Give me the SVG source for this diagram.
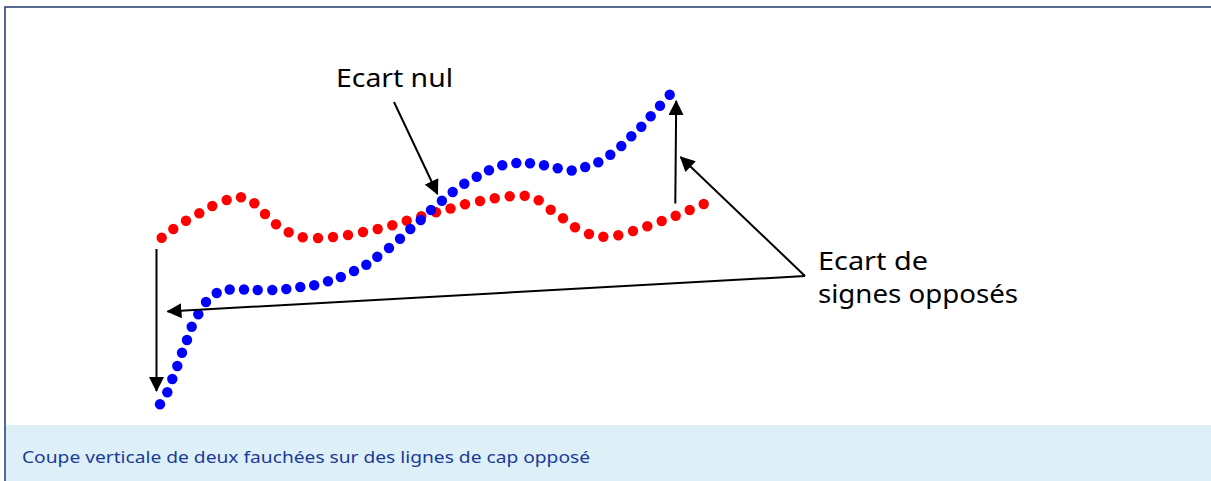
<svg xmlns="http://www.w3.org/2000/svg" xmlns:xlink="http://www.w3.org/1999/xlink" width="1211" height="481" viewBox="0 0 1211 481">
<style>
.r{fill:#ff0000}
.b{fill:#0000ff}
.lbl{font-family:"Noto Sans","Liberation Sans",sans-serif;font-size:25px;fill:#000}
.cap{font-family:"Noto Sans","Liberation Sans",sans-serif;font-size:16px;fill:#1c3a98}
.arr{stroke:#000;stroke-width:2;fill:none;marker-end:url(#ah)}
</style>
<defs>
<marker id="ah" viewBox="0 0 15 15" refX="14" refY="7.5" markerWidth="15" markerHeight="15" markerUnits="userSpaceOnUse" orient="auto">
<path d="M0,0 L15,7.5 L0,15 Z" fill="#000"/>
</marker>
</defs>
<rect x="0" y="0" width="1211" height="481" fill="#fff"/>
<rect x="5.5" y="425" width="1210" height="60" fill="#ddf0f8"/>
<path d="M5,485 V7 H1215" fill="none" stroke="#1e3a6a" stroke-width="1.5"/>
<g id="caption"><text class="cap" x="22" y="463" textLength="568" lengthAdjust="spacingAndGlyphs">Coupe verticale de deux fauchées sur des lignes de cap opposé</text></g>
<g id="red-profile">
<circle class="r" cx="161.7" cy="237.7" r="5.2"/><circle class="r" cx="173.3" cy="229" r="5.2"/><circle class="r" cx="186" cy="220.7" r="5.2"/><circle class="r" cx="199.3" cy="213.3" r="5.2"/><circle class="r" cx="212.3" cy="206" r="5.2"/><circle class="r" cx="226.7" cy="200" r="5.2"/><circle class="r" cx="241" cy="197.3" r="5.2"/><circle class="r" cx="254.3" cy="203.3" r="5.2"/><circle class="r" cx="265" cy="214" r="5.2"/><circle class="r" cx="276" cy="224.3" r="5.2"/><circle class="r" cx="288.7" cy="232.3" r="5.2"/><circle class="r" cx="302.7" cy="237.3" r="5.2"/><circle class="r" cx="318" cy="238" r="5.2"/><circle class="r" cx="333" cy="237" r="5.2"/><circle class="r" cx="348" cy="235" r="5.2"/><circle class="r" cx="363" cy="232" r="5.2"/><circle class="r" cx="377.7" cy="229" r="5.2"/><circle class="r" cx="392.3" cy="225.3" r="5.2"/><circle class="r" cx="406.7" cy="220.7" r="5.2"/><circle class="r" cx="421.3" cy="216.3" r="5.2"/><circle class="r" cx="436" cy="212.3" r="5.2"/><circle class="r" cx="450.5" cy="208.5" r="5.2"/><circle class="r" cx="465" cy="204.3" r="5.2"/><circle class="r" cx="480" cy="201" r="5.2"/><circle class="r" cx="494.7" cy="198.3" r="5.2"/><circle class="r" cx="509.7" cy="196.3" r="5.2"/><circle class="r" cx="524.7" cy="195.7" r="5.2"/><circle class="r" cx="538.7" cy="200.3" r="5.2"/><circle class="r" cx="550.7" cy="209.7" r="5.2"/><circle class="r" cx="563" cy="218.3" r="5.2"/><circle class="r" cx="575" cy="227.3" r="5.2"/><circle class="r" cx="589" cy="234" r="5.2"/><circle class="r" cx="603.3" cy="236.7" r="5.2"/><circle class="r" cx="618.3" cy="235.3" r="5.2"/><circle class="r" cx="633" cy="231" r="5.2"/><circle class="r" cx="647.3" cy="226.3" r="5.2"/><circle class="r" cx="661.7" cy="221" r="5.2"/><circle class="r" cx="675.7" cy="215.7" r="5.2"/><circle class="r" cx="689.7" cy="210" r="5.2"/><circle class="r" cx="703.7" cy="204" r="5.2"/>
</g>
<g id="blue-profile">
<circle class="b" cx="160" cy="404.3" r="5.2"/><circle class="b" cx="167.3" cy="392.3" r="5.2"/><circle class="b" cx="172.3" cy="379" r="5.2"/><circle class="b" cx="177.3" cy="366" r="5.2"/><circle class="b" cx="182" cy="352.7" r="5.2"/><circle class="b" cx="187" cy="340" r="5.2"/><circle class="b" cx="191.7" cy="326.7" r="5.2"/><circle class="b" cx="198.3" cy="314.3" r="5.2"/><circle class="b" cx="206" cy="302" r="5.2"/><circle class="b" cx="216.7" cy="293" r="5.2"/><circle class="b" cx="229.7" cy="289.5" r="5.2"/><circle class="b" cx="244" cy="289.5" r="5.2"/><circle class="b" cx="257.7" cy="290" r="5.2"/><circle class="b" cx="272.3" cy="290" r="5.2"/><circle class="b" cx="286.3" cy="289" r="5.2"/><circle class="b" cx="300.3" cy="287" r="5.2"/><circle class="b" cx="314.2" cy="285.2" r="5.2"/><circle class="b" cx="328" cy="281.3" r="5.2"/><circle class="b" cx="340.8" cy="277" r="5.2"/><circle class="b" cx="354" cy="271" r="5.2"/><circle class="b" cx="366.3" cy="264.7" r="5.2"/><circle class="b" cx="377.3" cy="256.7" r="5.2"/><circle class="b" cx="389" cy="248" r="5.2"/><circle class="b" cx="400" cy="238.7" r="5.2"/><circle class="b" cx="410.3" cy="229" r="5.2"/><circle class="b" cx="420.7" cy="220" r="5.2"/><circle class="b" cx="431" cy="210" r="5.2"/><circle class="b" cx="441.9" cy="200.8" r="5.2"/><circle class="b" cx="452.7" cy="192" r="5.2"/><circle class="b" cx="464.3" cy="183.7" r="5.2"/><circle class="b" cx="476.7" cy="176.7" r="5.2"/><circle class="b" cx="489" cy="170.3" r="5.2"/><circle class="b" cx="502.3" cy="165.3" r="5.2"/><circle class="b" cx="516.3" cy="163" r="5.2"/><circle class="b" cx="530" cy="163.3" r="5.2"/><circle class="b" cx="544" cy="165.3" r="5.2"/><circle class="b" cx="557.7" cy="168.3" r="5.2"/><circle class="b" cx="571.7" cy="170.5" r="5.2"/><circle class="b" cx="585.2" cy="167" r="5.2"/><circle class="b" cx="598.3" cy="162.3" r="5.2"/><circle class="b" cx="610.3" cy="154.7" r="5.2"/><circle class="b" cx="621.3" cy="146" r="5.2"/><circle class="b" cx="631.3" cy="136.3" r="5.2"/><circle class="b" cx="641.3" cy="126.7" r="5.2"/><circle class="b" cx="650.7" cy="116.3" r="5.2"/><circle class="b" cx="660" cy="105.7" r="5.2"/><circle class="b" cx="669.7" cy="94.7" r="5.2"/>
</g>
<g id="connectors">
<line class="arr" x1="156.5" y1="249" x2="156.5" y2="391"/>
<line class="arr" x1="805" y1="276" x2="167.5" y2="311.5"/>
<line class="arr" x1="805" y1="276" x2="680.5" y2="157"/>
<line class="arr" x1="675.3" y1="203.5" x2="676.2" y2="101"/>
<line class="arr" x1="394" y1="102" x2="437.5" y2="194"/>
</g>
<g id="label-nul"><text class="lbl" x="336" y="87" textLength="117" lengthAdjust="spacingAndGlyphs">Ecart nul</text></g>
<g id="label-opposes"><text class="lbl" x="818" y="270" textLength="110" lengthAdjust="spacingAndGlyphs">Ecart de</text><text class="lbl" x="818" y="303" textLength="200" lengthAdjust="spacingAndGlyphs">signes opposés</text></g>
</svg>
